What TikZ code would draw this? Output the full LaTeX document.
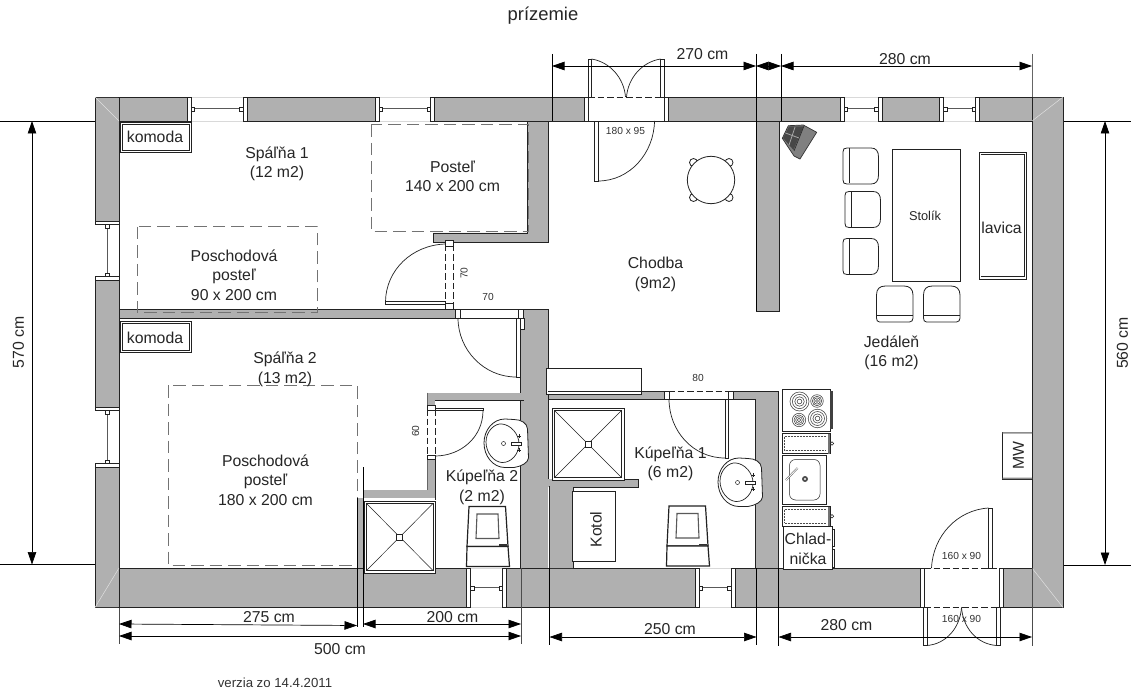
\documentclass[tikz,border=0pt]{standalone}
\usepackage{fontspec}
\setmainfont{Liberation Sans}
\usetikzlibrary{arrows.meta}
\definecolor{wallc}{HTML}{B0B0B0}
\definecolor{inkc}{HTML}{222222}
\tikzset{
 x=1pt,y=-1pt,
 wall/.style={fill=wallc,draw=inkc,line width=0.7pt},
 softwall/.style={fill=wallc,draw=none},
 frm/.style={fill=white,draw=inkc,line width=0.9pt},
 pane/.style={draw=black!65,line width=1pt},
 item/.style={fill=white,draw=inkc,line width=0.8pt},
 thin line/.style={draw=inkc,line width=0.5pt},
 bedline/.style={draw=black!55,line width=1pt,dash pattern=on 12.5pt off 6pt},
 doordash/.style={draw=inkc,line width=0.8pt,dash pattern=on 6.5pt off 3pt},
 dimarrow/.style={draw=black,line width=0.7pt,{Triangle[length=12.5pt,width=8.5pt]}-{Triangle[length=12.5pt,width=8.5pt]}},
 ext/.style={draw=black,line width=0.6pt},
 lbl/.style={font=\fontsize{15.8}{19.6}\selectfont,text=black!85,inner sep=0pt,align=center,yshift=-1.5pt},
 vlbl/.style={font=\fontsize{15.8}{19.6}\selectfont,text=black!85,inner sep=0pt,align=center,rotate=90},
 small/.style={font=\fontsize{10.2}{12}\selectfont,text=black!80,inner sep=0pt},
}
\newcommand{\hwin}[4]{%
 \fill[white] (#1,#3) rectangle (#2,#4);
 \draw[black!15,line width=0.4pt] (#1,#3) -- (#2,#3) (#1,#4) -- (#2,#4);
 \draw[frm] (#1,#3) rectangle ++(4,#4-#3);
 \draw[frm] (#2,#3) rectangle ++(-4,#4-#3);
 \draw[pane] ({#1+7},{(#3+#4)/2}) -- ({#2-7},{(#3+#4)/2});
 \draw[item,line width=0.5pt] ({#1+4},{(#3+#4)/2-2}) rectangle ++(3.5,4);
 \draw[item,line width=0.5pt] ({#2-4},{(#3+#4)/2-2}) rectangle ++(-3.5,4);
}
\newcommand{\vwin}[4]{%
 \fill[white] (#1,#3) rectangle (#2,#4);
 \draw[frm] (#1,#3) rectangle ++(#2-#1,3.5);
 \draw[frm] (#1,#4) rectangle ++(#2-#1,-3.5);
 \draw[pane] ({(#1+#2)/2},{#3+7}) -- ({(#1+#2)/2},{#4-7});
 \draw[item,line width=0.5pt] ({(#1+#2)/2-2},{#3+3.5}) rectangle ++(4,3.5);
 \draw[item,line width=0.5pt] ({(#1+#2)/2-2},{#4-3.5}) rectangle ++(4,-3.5);
}
\newcommand{\shower}[4]{%
 \draw[item,line width=1pt] (#1,#2) rectangle (#3,#4);
 \draw[inkc,line width=1pt] ({#1+2.5},{#2+2.5}) rectangle ({#3-2.5},{#4-2.5});
 \draw[thin line] ({#1+2.5},{#2+2.5}) -- ({#3-2.5},{#4-2.5}) ({#3-2.5},{#2+2.5}) -- ({#1+2.5},{#4-2.5});
 \draw[item] ({(#1+#3)/2-3},{(#2+#4)/2-3}) rectangle ++(6,6);
}
\newcommand{\toilet}[2]{%
 \begin{scope}[shift={(#1,#2)}]
 \draw[item,line width=1.2pt] (0,0) -- (36.5,0) -- (39,40) -- (-2,40) -- cycle;
 \draw[draw=black!65,line width=1.1pt] (8,7.5) -- (29,7.5) -- (30,32) -- (7,32) -- cycle;
 \draw[item,line width=1.2pt] (-2,40) -- (39,40) -- (40.5,60) -- (-2.5,60) -- cycle;
 \draw[black!80,line width=1.2pt] (30,38.5) -- (38,38.5);
 \end{scope}
}
\newcommand{\basin}[2]{%
 \begin{scope}[shift={(#1,#2)}]
 \draw[item,line width=0.8pt] (9,-23.5) .. controls (16,-23.5) and (22,-20) .. (22.5,-14) -- (23.5,15) .. controls (23,20) and (16,23.5) .. (9,24.5) -- (0,24.5) .. controls (-12,24.5) and (-21,13) .. (-21,0) .. controls (-21,-13) and (-12,-24) .. (0,-24) -- cycle;
 \draw[inkc,line width=0.7pt] (-1.5,-1) ++(-17.5,0) .. controls (-19,-12) and (-10,-20) .. (-3,-19) .. controls (6,-18) and (14,-9) .. (14,1) .. controls (14,11) and (6,20) .. (-3,19.5) .. controls (-11,19) and (-19,10) .. (-19,-1) -- cycle;
 \draw[item,line width=0.5pt] (-1.5,0.5) circle[radius=2];
 \draw[fill=white,draw=inkc,line width=0.5pt] (6.5,-1) rectangle (16.5,2);
 \draw[inkc,line width=0.6pt] (12,-7) -- ++(4,0) (14,-9) -- ++(0,4) (12,7) -- ++(4,0) (14,5) -- ++(0,4);
 \end{scope}
}
\newcommand{\counterbox}[2]{%
 \draw[item] (782.5,#1) rectangle (830,#2);
 \fill[black!55] (827.5,#1) rectangle (830,#2);
 \draw[black!70,line width=0.5pt,densely dotted] (784.5,{#1+3}) -- (826,{#1+3}) (784.5,{#1+3}) -- (784.5,{#2-3}) -- (826,{#2-3});
 \draw[item,line width=0.5pt] (832,{(#1+#2)/2}) circle[radius=1.8];
}
\newcommand{\chairv}[2]{%
 \draw[item] (#1,{#2+4}) .. controls (#1,{#2+1}) and ({#1+1},#2) .. ({#1+4},#2) -- ({#1+28},#2) .. controls ({#1+33},#2) and ({#1+35.5},{#2+3}) .. ({#1+35.5},{#2+9}) -- ({#1+35.5},{#2+27}) .. controls ({#1+35.5},{#2+33}) and ({#1+33},{#2+36}) .. ({#1+28},{#2+36}) -- ({#1+4},{#2+36}) .. controls ({#1+1},{#2+36}) and (#1,{#2+35}) .. (#1,{#2+32}) -- cycle;
 \draw[inkc,line width=0.7pt] ({#1+6},{#2+0.5}) -- ({#1+6},{#2+35.5});
}
\newcommand{\chairh}[2]{%
 \draw[item] ({#1+9},#2) -- ({#1+27.5},#2) .. controls ({#1+33},#2) and ({#1+36.5},{#2+3}) .. ({#1+36.5},{#2+9}) -- ({#1+36.5},{#2+32}) .. controls ({#1+36.5},{#2+34.5}) and ({#1+35},{#2+36}) .. ({#1+33},{#2+36}) -- ({#1+3},{#2+36}) .. controls ({#1+1},{#2+36}) and (#1,{#2+34.5}) .. (#1,{#2+32}) -- (#1,{#2+9}) .. controls (#1,{#2+3}) and ({#1+3},#2) .. ({#1+9},#2) -- cycle;
 \draw[inkc,line width=0.7pt] ({#1+0.5},{#2+29.5}) -- ({#1+36},{#2+29.5});
}
\begin{document}
\begin{tikzpicture}
\useasboundingbox (0,0) rectangle (1131,692);
\fill[white] (0,0) rectangle (1131,692);

% extension lines behind the walls
\draw[ext] (0,121) -- (120,121) (1032,121) -- (1131,121);
\draw[ext] (0,564.5) -- (119,564.5) (1032,565) -- (1131,565);

% outer walls
\draw[wall] (95,97) rectangle (1063,121);
\draw[wall] (95,568) rectangle (1063,607.5);
\draw[wall] (95,97) rectangle (119,607.5);
\draw[wall] (1032,97) rectangle (1063,607.5);
\fill[wallc] (96,98) rectangle (118,120.5) (96,568.5) rectangle (118,607);
\fill[wallc] (1033,98) rectangle (1062,120.5) (1033,568.5) rectangle (1062,607);
\fill[wallc] (1033,120) rectangle (1062,122) (1033,567) rectangle (1062,569) (96,120) rectangle (118,122) (96,567) rectangle (118,569);
\draw[black!12,line width=0.5pt] (95,97) -- (119,121) (95,607.5) -- (119,568) (1063,97) -- (1032,121) (1063,607.5) -- (1032,568);
\draw[inkc,line width=0.7pt] (119,121) -- (119,568) (1032,121) -- (1032,568);

% inner walls
\draw[wall] (527.5,121) -- (548,121) -- (548,242) -- (433.5,242) -- (433.5,233) -- (527.5,233) -- cycle;
\draw[wall] (119,309.5) rectangle (524,318);
\draw[wall] (756,121) rectangle (779,311);
\fill[wallc] (524,309.5) rectangle (548,568);
\draw[inkc,line width=0.7pt] (524,309.5) -- (548,309.5) -- (548,479);
\fill[wallc] (520,329) rectangle (524,568);
\draw[inkc,line width=0.7pt] (520.5,329) -- (520.5,568);
\draw[item,line width=0.6pt] (520,318) rectangle (524,329);
% bath 2 partitions
\fill[wallc] (427,392.5) rectangle (524,400.5);
\fill[wallc] (427,392.5) rectangle (435,492);
\fill[wallc] (363,490) rectangle (435,498);
\fill[wallc] (357,498) rectangle (363,568);
\draw[black!60,line width=0.5pt] (427,392.5) -- (427,490);
\draw[inkc,line width=0.6pt] (435,400.5) -- (524,400.5) (435,459) -- (435,500);
% bath 1 partitions
\draw[wall] (548,391) rectangle (755,399);
\draw[wall] (733,391) -- (778.5,391) -- (778.5,568) -- (755,568) -- (755,399) -- (733,399) -- cycle;
\fill[wallc] (548,479) rectangle (638,487) (549,479) rectangle (573,568);
\draw[inkc,line width=0.7pt] (624,479) -- (638,479) -- (638,487) -- (573,487) -- (573,568);
\draw[inkc,line width=0.9pt] (549.5,486) -- (549.5,568);

% windows
\hwin{187}{247}{97}{121}
\hwin{375}{434.5}{97}{121}
\hwin{840}{882}{97}{121}
\hwin{939.5}{979.5}{97}{121}
\hwin{466.5}{506.5}{568}{607.5}
\hwin{695}{735}{568}{607.5}
\vwin{95}{119}{221}{280}
\vwin{95}{119}{407}{467}

% beds
\draw[bedline] (371,124.5) rectangle (528,232);
\draw[bedline] (137,227) rectangle (317.5,312.5);
\draw[bedline] (168,385) rectangle (357,565.5);

% komoda
\foreach \yy/\hh in {122/152.5,321.5/352.5}{
 \draw[item] (120.5,\yy) rectangle (191.5,\hh);
 \draw[inkc,line width=0.7pt] (122.5,{\yy+2}) rectangle (189.5,{\hh-2});
 \fill[white] (123,{\yy+3}) rectangle (189,{\hh-2.5});
}

% door Spalna 1
\fill[white] (445,240) rectangle (453,309);
\draw[doordash] (445.5,245) -- (445.5,304) (453,245) -- (453,304);
\draw[frm] (445.5,240) rectangle (453,246);
\draw[frm] (445.5,303) rectangle (453,309);
\draw[item] (385.5,301.5) rectangle (445.5,304.5);
\draw[inkc,line width=0.7pt] (385.5,301.5) .. controls (386,270) and (412,245) .. (445.5,244);

% door Spalna 2
\fill[white] (455,309.5) rectangle (523,318);
\draw[doordash] (459,309.5) -- (518,309.5) (459,318) -- (518,318);
\draw[frm] (455,309.5) rectangle (460,318);
\draw[frm] (518,309.5) rectangle (523,318);
\draw[item] (516,318) rectangle (520,377);
\draw[inkc,line width=0.7pt] (458,318) .. controls (458,350) and (484,377) .. (516,377);

% door Kupelna 2
\fill[white] (427,405) rectangle (435,459);
\draw[doordash] (427.5,409) -- (427.5,455) (435,409) -- (435,455);
\draw[frm] (427.5,405) rectangle (435,410);
\draw[frm] (427.5,455) rectangle (435,459);
\draw[item] (435,408) rectangle (483,410.5);
\draw[inkc,line width=0.7pt] (483,410.5) .. controls (483,437) and (461,456) .. (435,456);

% door Kupelna 1
\fill[white] (664,391) rectangle (733,399);
\draw[doordash] (668,391) -- (729,391) (668,399) -- (729,399);
\draw[frm] (664,391) rectangle (669,399);
\draw[frm] (728,391) rectangle (733,399);
\draw[item] (725,399) rectangle (728.5,458);
\draw[inkc,line width=0.7pt] (669,399) .. controls (669,431) and (693,458) .. (725,458);

% entrance door top
\fill[white] (584.5,97) rectangle (668,121);
\draw[doordash] (588,97) -- (664,97) (588,121) -- (664,121);
\draw[frm] (584.5,97) rectangle (588.5,121);
\draw[frm] (664,97) rectangle (668,121);
\draw[item] (588,59) rectangle (591.5,97);
\draw[item] (660.5,59) rectangle (664,97);
\draw[inkc,line width=0.7pt] (591.5,59) .. controls (610,62) and (624,78) .. (625.5,97);
\draw[inkc,line width=0.7pt] (660.5,59) .. controls (642,62) and (628,78) .. (626.5,97);
\draw[item] (594.5,121) rectangle (598,181);
\draw[inkc,line width=0.7pt] (654.5,121) .. controls (654,153) and (630,181) .. (598,181);

% terrace door bottom
\fill[white] (920,568) rectangle (1003,607.5);
\draw[doordash] (924,568) -- (999,568) (924,607.5) -- (999,607.5);
\draw[frm] (920,568) rectangle (924,607.5);
\draw[frm] (999,568) rectangle (1003,607.5);
\draw[item] (988.5,508) rectangle (992,568);
\draw[inkc,line width=0.7pt] (988.5,508) .. controls (957,510) and (933,536) .. (931.5,568);
\draw[item] (923,607.5) rectangle (927,645.5);
\draw[item] (996.5,607.5) rectangle (1000,645.5);
\draw[inkc,line width=0.7pt] (927,645.5) .. controls (946,644) and (960,628) .. (961.5,607.5);
\draw[inkc,line width=0.7pt] (996.5,645.5) .. controls (977,644) and (963,628) .. (961.5,607.5);

% showers, toilets, basins
\shower{364}{501}{435.5}{573}
\shower{552}{408}{624}{480}
\toilet{469}{506.5}
\toilet{669}{506}
\basin{505}{443}
\basin{739}{482}

% box above bath 1, kotol
\draw[item] (546,368.5) rectangle (641.5,394);
\draw[inkc,line width=0.7pt] (548,391.5) -- (641,391.5);
\draw[item] (572,491) rectangle (615,561);

% kitchen
\draw[item] (782,389) rectangle (830,431.5);
\fill[black!75] (830,391) rectangle (832.5,429);
\foreach \cx/\cy/\rr in {799.5/401.5/9.5,817/401/6.3,799/420/6.7,817.5/418.5/9.3}{
 \foreach \k in {1,...,4}{\draw[black!75,line width=0.55pt] (\cx,\cy) circle[radius={\rr*\k/4}];}
}
\counterbox{433.5}{453.5}
\draw[item] (782.5,455.5) rectangle (826,504);
\draw[inkc,line width=0.5pt,rounded corners=6pt] (789.5,459.5) rectangle (820,500);
\fill[black!70] (805,479) circle[radius=3];
\fill[white] (805,479) circle[radius=1.1];
\draw[black!65,line width=1.8pt] (786,480) -- (797.5,468);
\draw[white,line width=0.8pt] (786,480) -- (797.5,468);
\counterbox{506.5}{526}
\draw[item] (783.5,526) rectangle (832,569);
\draw[item] (832,529.5) rectangle (834,546);
\draw[item] (832,549.5) rectangle (834,567.5);

% MW
\draw[item] (1002.5,432) rectangle (1032,479);
\fill[black!45] (1002.5,432) rectangle (1032,433.5) (1002.5,477.5) rectangle (1032,479);

% dining set
\draw[item] (892,149.5) rectangle (960,281.5);
\draw[item] (979,152) rectangle (1026.5,279);
\draw[inkc,line width=0.6pt] (980.5,154.5) -- (1024,154.5) -- (1024,276.5) -- (980.5,276.5);
\chairv{843}{148}
\chairv{845}{191.5}
\chairv{843}{238.5}
\chairh{876.5}{286}
\chairh{923.5}{286}

% round table
\foreach \a/\b in {693.5/162.5,729/162.5,693.5/197.5,729/197.5}{\draw[item] (\a,\b) circle[radius=4];}
\draw[item] (711,180) circle[radius=23.7];

% device at the wall
\draw[fill=black!50,draw=black!80,line width=0.7pt] (782.3,138.3) -- (788.3,125.7) -- (803.3,125) -- (816.7,132.3) -- (800,159) -- (794,156) -- cycle;
\fill[black!72] (783,138) -- (789,126.5) -- (803.5,126.5) -- (793.5,150) -- cycle;
\draw[black!35,line width=0.8pt] (785.5,133) -- (799,138) (795,127) -- (789,145);
\draw[black!85,line width=0.6pt] (804,126) -- (794,151);

% dimensions
\coordinate (d0) at (552,66);
\coordinate (d1) at (756,66);
\coordinate (d2) at (781,66);
\coordinate (d3) at (1032,66);
\draw[ext] (552,54) -- (552,121);
\draw[ext] (756,54) -- (756,311);
\draw[ext] (781,54) -- (781,121);
\draw[ext,black!60] (1032,54) -- (1032,97);
\draw[dimarrow] (d0) -- (d1);
\draw[dimarrow] (d1) -- (d2);
\draw[dimarrow] (d2) -- (d3);

\coordinate (l0) at (32,121);
\coordinate (l1) at (32,564.5);
\draw[dimarrow] (l0) -- (l1);
\coordinate (r0) at (1105,121);
\coordinate (r1) at (1105,565);
\draw[dimarrow] (r0) -- (r1);

\draw[ext,black!70] (119,607.5) -- (119,644) (521,568) -- (521,644);
\draw[ext] (357,498) -- (357,627) (363,467) -- (363,627);
\coordinate (b0) at (119,624);
\coordinate (b1) at (357,625.5);
\coordinate (b2) at (363,624);
\coordinate (b3) at (521,624);
\coordinate (b4) at (119,636);
\coordinate (b5) at (521,636);
\draw[dimarrow] (b0) -- (b1);
\draw[dimarrow] (b2) -- (b3);
\draw[dimarrow] (b4) -- (b5);
\draw[ext] (549.5,568) -- (549.5,645) (756.5,568) -- (756.5,645) (778.5,568) -- (778.5,646);
\draw[ext,black!70] (1032,568) -- (1032,646);
\coordinate (c0) at (549.5,637);
\coordinate (c1) at (756.5,637);
\coordinate (c2) at (778.5,637);
\coordinate (c3) at (1032,637);
\draw[dimarrow] (c0) -- (c1);
\draw[dimarrow] (c2) -- (c3);

% texts
\node[lbl,font=\fontsize{18.4}{22}\selectfont] (t1) at (543,14) {prízemie};
\node[lbl] (t2) at (702.5,52.5) {270 cm};
\node[lbl] (t3) at (905,57.5) {280 cm};
\node[lbl] (t4) at (277,162.5) {Spáľňa 1\\(12 m2)};
\node[lbl] (t5) at (452.5,175) {Posteľ\\140 x 200 cm};
\node[lbl] (t6) at (234,273.5) {Poschodová\\posteľ\\90 x 200 cm};
\node[lbl] (t7) at (155,135) {komoda};
\node[lbl] (t8) at (155,336) {komoda};
\node[lbl] (t9a) at (285,357.5) {Spáľňa 2};
\node[lbl] (t9) at (285,377.5) {(13 m2)};
\node[lbl] (t10) at (265.5,478.5) {Poschodová\\posteľ\\180 x 200 cm};
\node[lbl] (t11) at (482,486) {Kúpeľňa 2\\(2 m2)};
\node[lbl] (t12) at (670.5,462.5) {Kúpeľňa 1\\(6 m2)};
\node[lbl] (t13) at (655.5,273) {Chodba\\(9m2)};
\node[lbl] (t14) at (891.5,351.5) {Jedáleň\\(16 m2)};
\node[lbl] (t15) at (1001.5,226) {lavica};
\node[lbl,font=\fontsize{12.8}{15}\selectfont] (t16) at (925,214.5) {Stolík};
\node[vlbl] (t17) at (596,529.5) {Kotol};
\node[vlbl] (t18) at (1018.5,455.5) {MW};
\node[lbl] (t19) at (808,547.5) {Chlad-\\nička};
\node[lbl] (t20) at (269,615.5) {275 cm};
\node[lbl] (t21) at (452.5,615.5) {200 cm};
\node[lbl] (t22) at (340,648) {500 cm};
\node[lbl] (t23) at (670,627.5) {250 cm};
\node[lbl] (t24) at (846.5,624) {280 cm};
\node[vlbl] (t25) at (18.5,342.5) {570 cm};
\node[vlbl] (t26) at (1122.5,343) {560 cm};
\node[small] (t27) at (625.5,131) {180 x 95};
\node[small] (t28) at (961.5,556) {160 x 90};
\node[small] (t29) at (961.5,618.5) {160 x 90};
\node[small,rotate=90] (t30) at (464,273) {70};
\node[small] (t31) at (488,296.5) {70};
\node[small,rotate=90] (t32) at (415.5,431) {60};
\node[small] (t33) at (698,378) {80};
\node[small,font=\fontsize{13.2}{15}\selectfont] (t34) at (275,683) {verzia zo 14.4.2011};
\end{tikzpicture}
\end{document}
